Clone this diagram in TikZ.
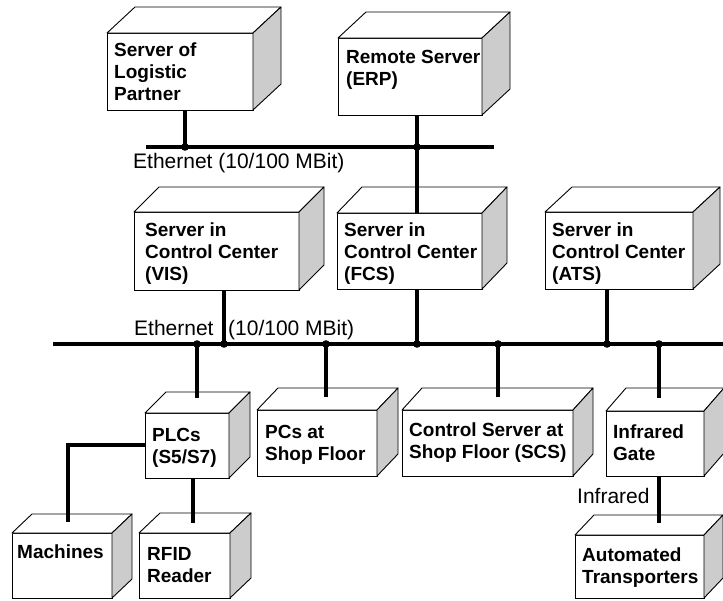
\documentclass[tikz,border=0pt]{standalone}
\usepackage{fontspec}
\setmainfont{Liberation Sans}
\tikzset{
  front/.style={draw, fill=white, line width=0.9pt, outer sep=0pt, inner sep=0pt},
  topface/.style={draw, fill=white, line width=0.9pt, line join=round},
  sideface/.style={draw, fill=black!20, line width=0.9pt, line join=round},
  boxtext/.style={anchor=north west, inner sep=0pt, align=left,
    font=\fontsize{19}{22}\selectfont\bfseries},
  link/.style={line width=3.3pt},
  lbl/.style={inner sep=0pt, anchor=base west, font=\fontsize{21}{24}\selectfont},
}
% #1 name, #2 left, #3 top, #4 right, #5 bottom, #6 depth x, #7 depth y,
% #8 text offset from the front corner, #9 text
\newcommand\netbox[9]{%
  \node[front, anchor=north west, minimum width={#4-#2}, minimum height={#5-#3}] (#1) at (#2,#3) {};
  \draw[topface] (#1.north west) -- ++(#6,-#7) -- ++({#4-#2},0) -- (#1.north east) -- cycle;
  \draw[sideface] (#1.north east) -- ++(#6,-#7) -- ++(0,{#5-#3}) -- (#1.south east) -- cycle;
  \node[boxtext] (#1-t) at ([shift={(#8)}]#1.north west) {#9};
}
\begin{document}
\begin{tikzpicture}[x=1pt, y=-1pt]
\useasboundingbox (0,0) rectangle (723,600);

% devices
\netbox{logi}{107}{33}{253}{110}{28}{26}{7,10}{Server of\\Logistic\\Partner}
\netbox{erp}{338}{38}{482}{115}{28}{26}{8,12}{Remote Server\\(ERP)}
\netbox{vis}{134}{212}{299}{290}{25}{25}{11,11}{Server in\\Control Center\\(VIS)}
\netbox{fcs}{337}{213}{482}{289}{25}{26}{7,10}{Server in\\Control Center\\(FCS)}
\netbox{ats}{545}{212}{693}{289}{27}{25}{7,11}{Server in\\Control Center\\(ATS)}
\netbox{plc}{145}{413}{229}{478}{21}{21}{7,15}{PLCs\\(S5/S7)}
\netbox{pcs}{257}{410}{377}{476}{21}{22}{8,15}{PCs at\\Shop Floor}
\netbox{scs}{402}{410}{573}{476}{20}{22}{7,13}{Control Server at\\Shop Floor (SCS)}
\netbox{irg}{606}{411}{704}{476}{20}{23}{7,14}{Infrared\\Gate}
\netbox{mach}{12}{533}{112}{598}{20}{19}{5,12}{Machines}
\netbox{rfid}{139}{533}{230}{598}{21}{20}{8,14}{RFID\\Reader}
\netbox{agv}{575}{535}{704}{598}{19}{20}{7,13}{Automated\\Transporters}

% bus ends and taps
\coordinate (busA) at (146,147);
\coordinate (busB) at (494,147);
\coordinate (busC) at (53,344);
\coordinate (busD) at (723,344);
\coordinate (t1) at (185,147);
\coordinate (t2) at (417,147);
\coordinate (m1) at (197,344);
\coordinate (m2) at (224,344);
\coordinate (m3) at (326,344);
\coordinate (m4) at (417,344);
\coordinate (m5) at (498,344);
\coordinate (m6) at (607,344);
\coordinate (m7) at (659,344);
% ends on the top faces
\coordinate (e-plc) at (197,398);
\coordinate (e-pcs) at (326,397);
\coordinate (e-scs) at (498,397);
\coordinate (e-irg) at (659,398);
\coordinate (e-agv) at (659,523);
\coordinate (e-rfid) at (193,523);
\coordinate (k-mach) at (68,445);
\coordinate (e-mach) at (68,522);

% buses
\draw[link] (busA) -- (busB);
\draw[link] (busC) -- (busD);

% connections
\draw[link] (logi.south -| t1) -- (t1);
\draw[link] (erp.south -| t2) -- (fcs.north -| t2);
\draw[link] (vis.south -| m2) -- (m2);
\draw[link] (fcs.south -| m4) -- (m4);
\draw[link] (ats.south -| m6) -- (m6);
\draw[link] (m1) -- (e-plc);
\draw[link] (m3) -- (e-pcs);
\draw[link] (m5) -- (e-scs);
\draw[link] (m7) -- (e-irg);
\draw[link] (irg.south -| e-agv) -- (e-agv);
\draw[link, line join=miter] (plc.west |- k-mach) -- (k-mach) -- (e-mach);
\draw[link] (plc.south -| e-rfid) -- (e-rfid);

% junction dots
\foreach \p in {t1,t2,m1,m2,m3,m4,m5,m6,m7}
  \fill (\p) circle (3.8);

% labels
\node[lbl] (eth1) at (133,168) {Ethernet (10/100 MBit)};
\node[lbl] (eth2a) at (134,335) {Ethernet};
\node[lbl] (eth2b) at (228,335) {(10/100 MBit)};
\node[lbl] (ir) at (577,503) {Infrared};
\end{tikzpicture}
\end{document}
